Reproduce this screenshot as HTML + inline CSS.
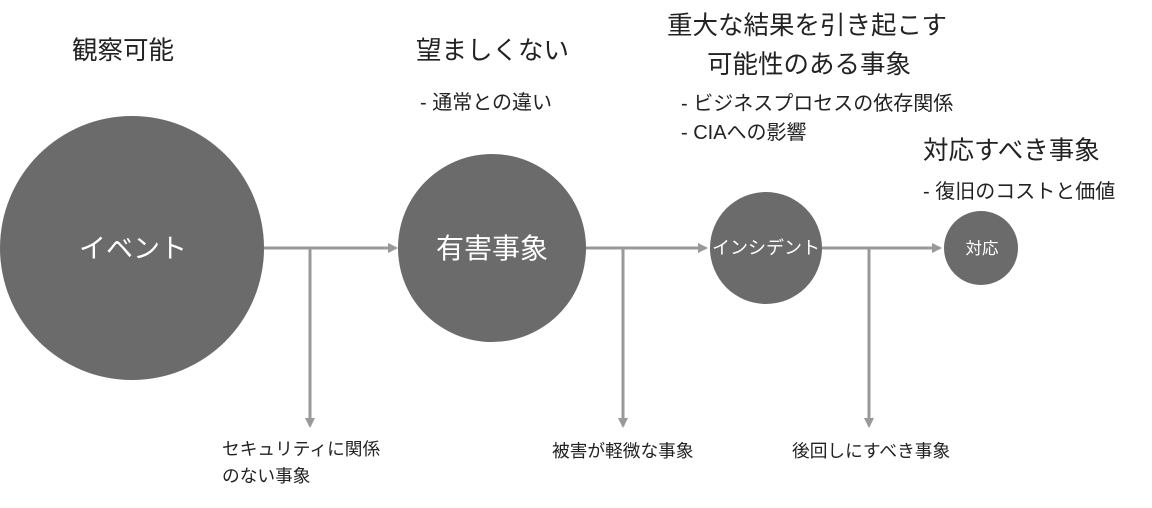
<!DOCTYPE html>
<html><head><meta charset="utf-8"><style>
html,body{margin:0;padding:0;background:#fff;}
body{width:1152px;height:508px;position:relative;overflow:hidden;font-family:"Liberation Sans","Noto Sans CJK JP",sans-serif;color:#222;}
.t{position:absolute;white-space:nowrap;line-height:1;}
.h{font-size:25.5px;}
.s{font-size:20px;}
.b{font-size:17.7px;}
</style></head><body>
<svg width="1152" height="508" style="position:absolute;left:0;top:0">
<defs><marker id="a" markerWidth="10" markerHeight="10" refX="8" refY="5" orient="auto" markerUnits="userSpaceOnUse"><path d="M0,0 L10,5 L0,10 z" fill="#999"/></marker></defs>
<g fill="#6b6b6b">
<circle cx="132" cy="248" r="132"/>
<circle cx="492" cy="248" r="94"/>
<circle cx="766" cy="248" r="56"/>
<circle cx="981" cy="248" r="37"/>
</g>
<g stroke="#999" stroke-width="3" fill="none">
<line x1="264" y1="248" x2="396" y2="248" marker-end="url(#a)"/>
<line x1="310" y1="248" x2="310" y2="426" marker-end="url(#a)"/>
<line x1="586" y1="248" x2="706" y2="248" marker-end="url(#a)"/>
<line x1="623" y1="248" x2="623" y2="426" marker-end="url(#a)"/>
<line x1="822" y1="248" x2="940" y2="248" marker-end="url(#a)"/>
<line x1="869" y1="248" x2="869" y2="426" marker-end="url(#a)"/>
</g>
<g fill="#fff" font-family="Liberation Sans, Noto Sans CJK JP, sans-serif" text-anchor="middle">
<text x="133" y="258" font-size="27">イベント</text>
<text x="492" y="258" font-size="28">有害事象</text>
<text x="766" y="254" font-size="18">インシデント</text>
<text x="982" y="254" font-size="16.5">対応</text>
</g>
</svg>
<div class="t h" style="left:72px;top:39px">観察可能</div>
<div class="t h" style="left:416px;top:39px">望ましくない</div>
<div class="t s" style="left:420px;top:93px">- 通常との違い</div>
<div class="t h" style="left:667px;top:14px">重大な結果を引き起こす</div>
<div class="t h" style="left:707px;top:53px">可能性のある事象</div>
<div class="t s" style="left:681px;top:94px">- ビジネスプロセスの依存関係</div>
<div class="t s" style="left:681px;top:123px">- CIAへの影響</div>
<div class="t h" style="left:923px;top:139px">対応すべき事象</div>
<div class="t s" style="left:923px;top:182px">- 復旧のコストと価値</div>
<div class="t b" style="left:222px;top:441px">セキュリティに関係</div>
<div class="t b" style="left:222px;top:468px">のない事象</div>
<div class="t b" style="left:552px;top:443px">被害が軽微な事象</div>
<div class="t b" style="left:792px;top:443px">後回しにすべき事象</div>
</body></html>
